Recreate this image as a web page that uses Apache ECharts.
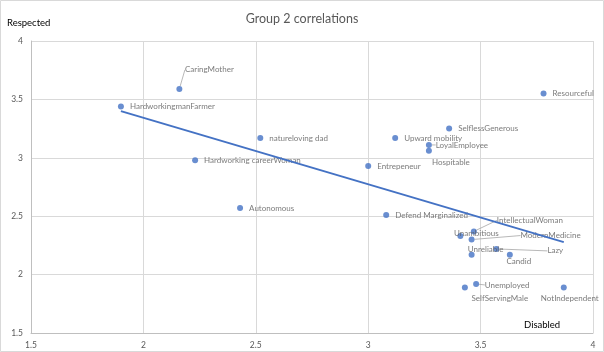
<!DOCTYPE html>
<html>
<head>
<meta charset="utf-8">
<script src="https://cdn.jsdelivr.net/npm/echarts@6/dist/echarts.min.js"></script>
<style>
html,body{margin:0;padding:0;background:#fff}
#chart{width:604px;height:352px}
</style>
</head>
<body>
<div id="chart"></div>
<script>
// data
var names = ['HardworkingmanFarmer','CaringMother','natureloving dad','Hardworking careerWoman','Autonomous',
  'Entrepeneur','Upward mobility','SelflessGenerous','LoyalEmployee','Hospitable','Resourceful',
  'Defend Marginalized','IntellectualWoman','Unambitious','ModernMedicine','Lazy','Unreliable','Candid',
  'Unemployed','SelfServingMale','NotIndependent'];
var disabled  = [1.90,2.16,2.52,2.23,2.43,3.00,3.12,3.36,3.27,3.27,3.78,3.08,3.47,3.41,3.46,3.57,3.46,3.63,3.48,3.43,3.87];
var respected = [3.44,3.59,3.17,2.98,2.57,2.93,3.17,3.25,3.11,3.06,3.55,2.51,2.37,2.33,2.30,2.22,2.17,2.17,1.92,1.89,1.89];

// label placement: [dx, dy, leader line] from the dot centre
var labelMoves = {
  'CaringMother': [30, -19, true],
  'LoyalEmployee': [33, 0, true],
  'Hospitable': [22, 12, false],
  'IntellectualWoman': [56, -11, true],
  'Unambitious': [16, -3, false],
  'ModernMedicine': [79, -4, true],
  'Unreliable': [14, -5, false],
  'Lazy': [59, 2, true],
  'Candid': [9, 7, false],
  'Unemployed': [31, 1, true],
  'SelfServingMale': [35, 11, false],
  'NotIndependent': [6, 11, false]
};

// least squares trendline, like excel does
var n = disabled.length, sx = 0, sy = 0, sxy = 0, sxx = 0;
for (var i = 0; i < n; i++) {
  sx += disabled[i]; sy += respected[i];
  sxy += disabled[i] * respected[i]; sxx += disabled[i] * disabled[i];
}
var slope = (n * sxy - sx * sy) / (n * sxx - sx * sx);
var icpt = (sy - slope * sx) / n;
var xMin = Math.min.apply(null, disabled), xMax = Math.max.apply(null, disabled);

var pts = names.map(function (nm, i) {
  var item = { name: nm, value: [disabled[i], respected[i]] };
  var mv = labelMoves[nm];
  if (mv) {
    item.label = { position: [3 + mv[0], 3 + mv[1]], align: 'center', verticalAlign: 'middle' };
    item.labelLine = { show: mv[2] };
  }
  return item;
});

var myChart = echarts.init(document.getElementById('chart'));
myChart.setOption({
  animation: false,
  textStyle: { fontFamily: 'Lato' },
  title: {
    text: 'Group 2 correlations', left: 'center', top: 7,
    textStyle: { fontSize: 12.5, fontWeight: 'normal', color: '#595959', fontFamily: 'Lato' }
  },
  grid: { left: 31, right: 11, top: 41, bottom: 19 },
  xAxis: {
    type: 'value', min: 1.5, max: 4, interval: 0.5,
    axisLine: { show: true, lineStyle: { color: '#bfbfbf' } },
    axisTick: { show: false },
    splitLine: { lineStyle: { color: '#d9d9d9' } },
    axisLabel: { color: '#595959', fontSize: 8.5, margin: 8 }
  },
  yAxis: {
    type: 'value', min: 1.5, max: 4, interval: 0.5,
    axisLine: { show: true, lineStyle: { color: '#bfbfbf' } },
    axisTick: { show: false },
    splitLine: { lineStyle: { color: '#d9d9d9' } },
    axisLabel: { color: '#595959', fontSize: 8.5, margin: 8 }
  },
  graphic: [
    { type: 'rect', shape: { x: 0.5, y: 0.5, width: 603, height: 351 }, style: { fill: 'none', stroke: '#d9d9d9' } },
    { type: 'text', left: 7, top: 18, style: { text: 'Respected', fontSize: 9.5, fill: '#000', fontFamily: 'Lato' } },
    { type: 'text', left: 524, top: 320, style: { text: 'Disabled', fontSize: 9.5, fill: '#000', fontFamily: 'Lato' } }
  ],
  series: [
    {
      type: 'line',
      data: [[xMin, icpt + slope * xMin], [xMax, icpt + slope * xMax]],
      symbol: 'none', silent: true, z: 3,
      lineStyle: { color: '#4472C4', width: 2 }
    },
    {
      type: 'scatter', symbolSize: 6, z: 2,
      itemStyle: { color: '#4472C4' },
      data: pts,
      label: {
        show: true, position: 'right', distance: 6,
        formatter: '{b}', color: '#595959', fontSize: 8, fontFamily: 'Lato'
      },
      labelLine: { show: false, lineStyle: { color: '#a6a6a6', width: 0.8 } }
    }
  ]
});
</script>
</body>
</html>
